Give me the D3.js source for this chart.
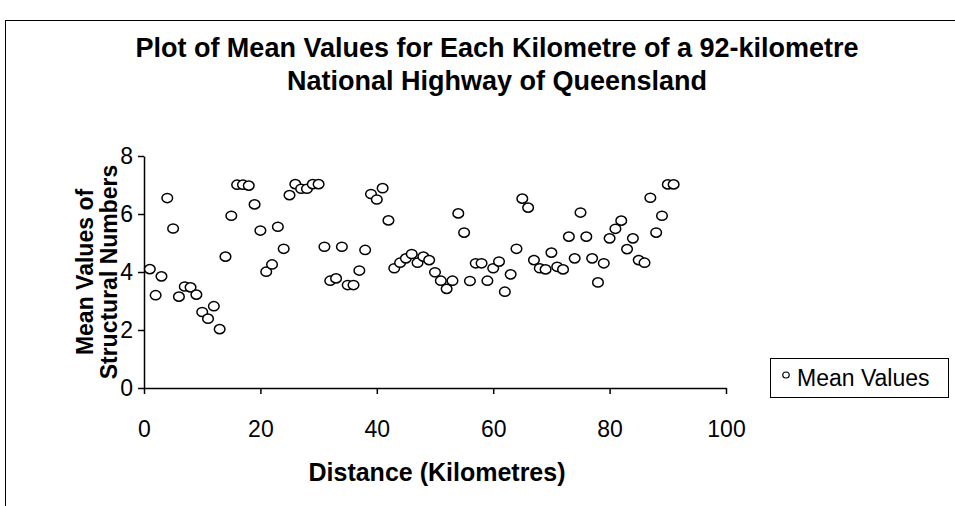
<!DOCTYPE html>
<html>
<head>
<meta charset="utf-8">
<script src="https://cdn.jsdelivr.net/npm/d3@7"></script>
<style>
	body { margin: 0; background: #fff; }
	text { font-family: "Liberation Sans", Arial, sans-serif; fill: #000; }
</style>
</head>
<body>
<div id="chart"></div>
<script>
// Data
const titleLines = ["Plot of Mean Values for Each Kilometre of a 92-kilometre", "National Highway of Queensland"];
const yTitleLines = ["Mean Values of", "Structural Numbers"];
const xTitle = "Distance (Kilometres)";
const seriesName = "Mean Values";
const xTicks = [0, 20, 40, 60, 80, 100];
const yTicks = [0, 2, 4, 6, 8];

const distance = [
	1, 2, 3, 4, 5, 6, 7, 8, 9, 10,
	11, 12, 13, 14, 15, 16, 17, 18, 19, 20,
	21, 22, 23, 24, 25, 26, 27, 28, 29, 30,
	31, 32, 33, 34, 35, 36, 37, 38, 39, 40,
	41, 42, 43, 44, 45, 46, 47, 48, 49, 50,
	51, 52, 53, 54, 55, 56, 57, 58, 59, 60,
	61, 62, 63, 64, 65, 66, 67, 68, 69, 70,
	71, 72, 73, 74, 75, 76, 77, 78, 79, 80,
	81, 82, 83, 84, 85, 86, 87, 88, 89, 90,
	91
];
const meanValues = [
	4.10, 3.20, 3.85, 6.55, 5.50, 3.15, 3.50, 3.47, 3.22, 2.62,
	2.39, 2.82, 2.03, 4.53, 5.94, 7.01, 7.01, 6.98, 6.33, 5.43,
	4.01, 4.26, 5.56, 4.80, 6.65, 7.03, 6.87, 6.87, 7.03, 7.03,
	4.87, 3.70, 3.78, 4.87, 3.55, 3.55, 4.05, 4.76, 6.69, 6.50,
	6.89, 5.78, 4.13, 4.32, 4.47, 4.62, 4.32, 4.53, 4.41, 3.99,
	3.70, 3.42, 3.70, 6.02, 5.36, 3.69, 4.30, 4.30, 3.70, 4.13,
	4.36, 3.32, 3.92, 4.80, 6.53, 6.22, 4.41, 4.13, 4.09, 4.67,
	4.18, 4.09, 5.22, 4.47, 6.05, 5.22, 4.47, 3.64, 4.30, 5.16,
	5.49, 5.77, 4.79, 5.16, 4.41, 4.32, 6.56, 5.36, 5.94, 7.02,
	7.02
];

const width = 955;
const height = 506;

const x = d3.scaleLinear().domain([0, 100]).range([144, 726]);
const y = d3.scaleLinear().domain([0, 8]).range([388, 156]);

const svg = d3
	.select("#chart")
	.append("svg")
	.attr("width", width)
	.attr("height", height);

// Outer chart frame (cut off at right and bottom)
svg.append("rect")
	.attr("x", 5.5)
	.attr("y", 20.5)
	.attr("width", 1000)
	.attr("height", 600)
	.attr("fill", "none")
	.attr("stroke", "#000")
	.attr("stroke-width", 1);

// Title
svg.append("text")
	.attr("text-anchor", "middle")
	.attr("font-weight", "bold")
	.attr("font-size", 27)
	.selectAll("tspan")
	.data(titleLines)
	.join("tspan")
	.attr("x", 497)
	.attr("y", (d, i) => 57 + i * 33)
	.text(d => d);

// Axes
const xAxis = svg.append("g")
	.attr("transform", `translate(0,${y(0)})`)
	.call(d3.axisBottom(x).tickValues(xTicks).tickSize(6).tickPadding(27).tickSizeOuter(0));

const yAxis = svg.append("g")
	.attr("transform", `translate(${x(0)},0)`)
	.call(d3.axisLeft(y).tickValues(yTicks).tickSize(6).tickPadding(5).tickSizeOuter(0));

[xAxis, yAxis].forEach(a => {
	a.select(".domain").attr("stroke", "#000").attr("stroke-width", 1.5);
	a.selectAll(".tick line").attr("stroke", "#000").attr("stroke-width", 1.5);
	a.selectAll(".tick text")
		.attr("font-family", "Liberation Sans, Arial, sans-serif")
		.attr("font-size", 23)
		.attr("fill", "#000");
});

// Axis titles
svg.append("text")
	.attr("x", 437)
	.attr("y", 481)
	.attr("text-anchor", "middle")
	.attr("font-weight", "bold")
	.attr("font-size", 25)
	.text(xTitle);

svg.append("text")
	.attr("transform", "translate(0,272) rotate(-90)")
	.attr("text-anchor", "middle")
	.attr("font-weight", "bold")
	.attr("font-size", 23)
	.selectAll("tspan")
	.data(yTitleLines)
	.join("tspan")
	.attr("x", 0)
	.attr("y", (d, i) => 93 + i * 24)
	.text(d => d);

// Points
svg.append("g")
	.selectAll("ellipse")
	.data(distance.map((d, i) => ({ km: d, v: meanValues[i] })))
	.join("ellipse")
	.attr("cx", d => x(d.km))
	.attr("cy", d => y(d.v))
	.attr("rx", 5.3)
	.attr("ry", 4.6)
	.attr("fill", "#fff")
	.attr("stroke", "#000")
	.attr("stroke-width", 1.5);

// Legend
const legend = svg.append("g").attr("transform", "translate(770,358)");
legend.append("rect")
	.attr("x", 0.5)
	.attr("y", 0.5)
	.attr("width", 178)
	.attr("height", 39)
	.attr("fill", "#fff")
	.attr("stroke", "#000")
	.attr("stroke-width", 1);
legend.append("ellipse")
	.attr("cx", 16)
	.attr("cy", 17)
	.attr("rx", 3.2)
	.attr("ry", 3)
	.attr("fill", "#fff")
	.attr("stroke", "#000")
	.attr("stroke-width", 1.2);
legend.append("text")
	.attr("x", 27)
	.attr("y", 28)
	.attr("font-size", 23)
	.text(seriesName);
</script>
</body>
</html>
